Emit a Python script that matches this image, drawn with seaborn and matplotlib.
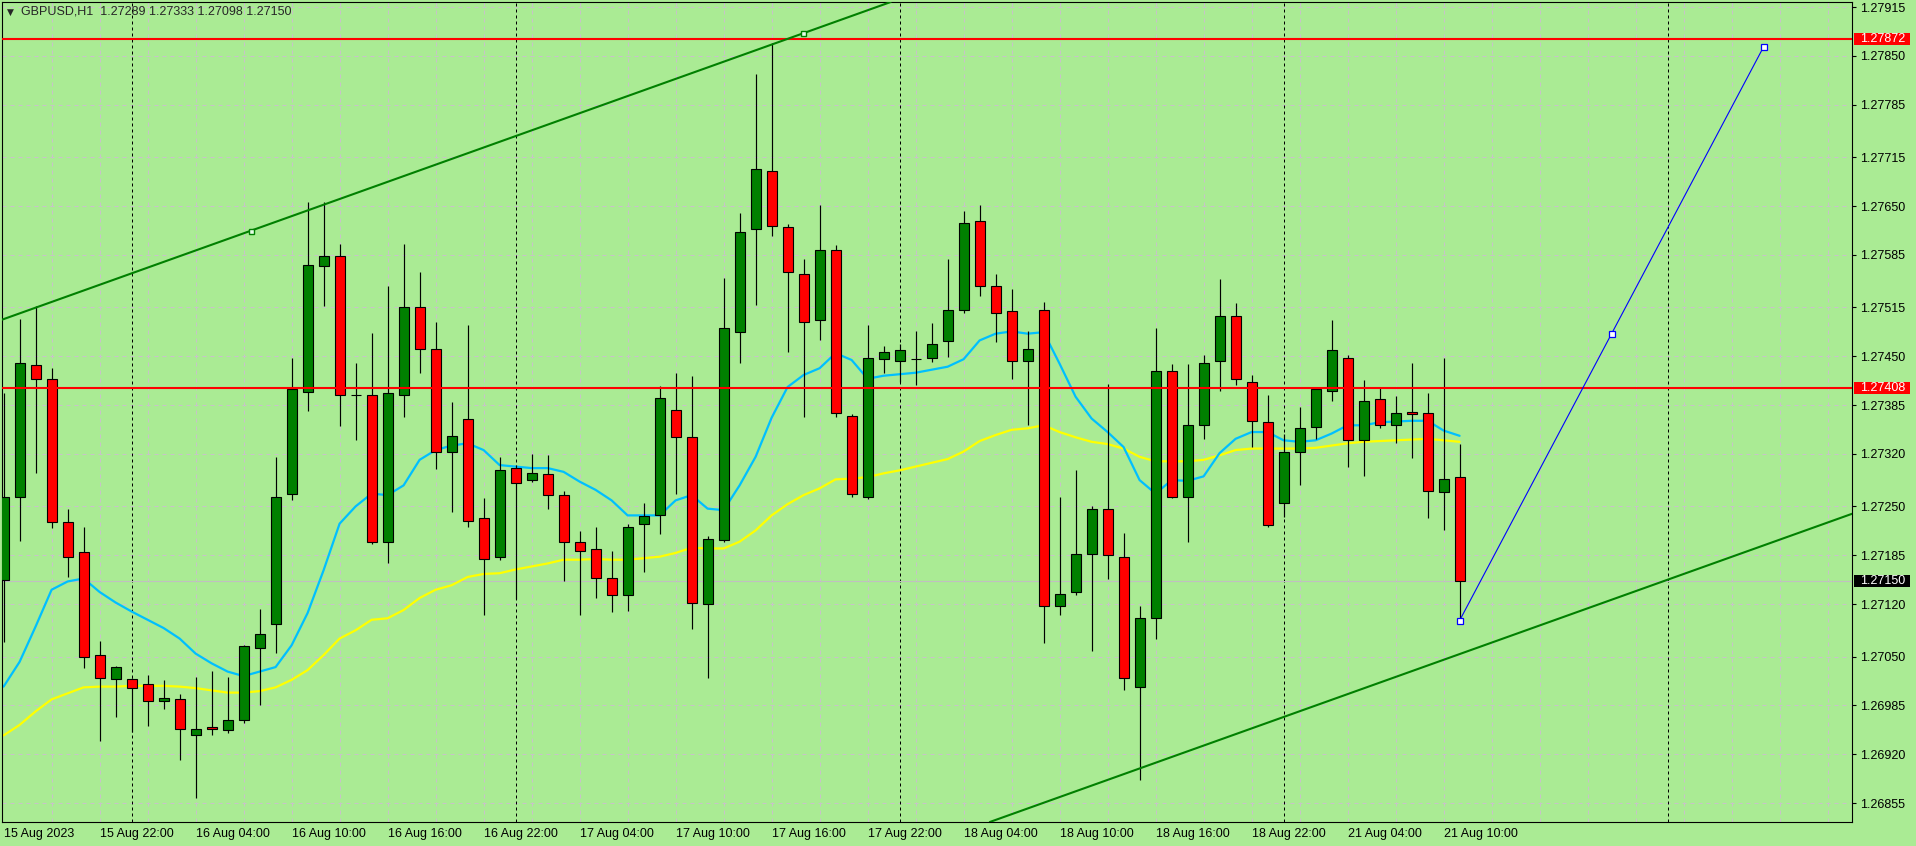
import numpy as np
import pandas as pd
import matplotlib
matplotlib.use('Agg')
import matplotlib.pyplot as plt
import matplotlib.transforms as mtransforms
from matplotlib.patches import Rectangle
import seaborn as sns


# GBPUSD H1 bars (15 Aug 16:00 .. 21 Aug 11:00)
opens = [
    1.27152, 1.27262, 1.27438, 1.27419, 1.27229, 1.27189, 1.27052, 1.27020, 1.27020, 1.27014,
    1.26991, 1.26994, 1.26946, 1.26956, 1.26952, 1.26966, 1.27062, 1.27094, 1.27267, 1.27403,
    1.27570, 1.27584, 1.27399, 1.27398, 1.27203, 1.27399, 1.27516, 1.27459, 1.27322, 1.27366,
    1.27234, 1.27183, 1.27301, 1.27285, 1.27293, 1.27265, 1.27202, 1.27193, 1.27154, 1.27132,
    1.27226, 1.27238, 1.27379, 1.27343, 1.27120, 1.27205, 1.27482, 1.27619, 1.27696, 1.27622,
    1.27559, 1.27498, 1.27591, 1.27371, 1.27262, 1.27446, 1.27444, 1.27446, 1.27447, 1.27470,
    1.27512, 1.27630, 1.27543, 1.27510, 1.27443, 1.27511, 1.27118, 1.27136, 1.27187, 1.27247,
    1.27183, 1.27010, 1.27102, 1.27430, 1.27263, 1.27359, 1.27443, 1.27503, 1.27416, 1.27362,
    1.27254, 1.27322, 1.27356, 1.27404, 1.27447, 1.27338, 1.27393, 1.27358, 1.27376, 1.27374,
    1.27269, 1.27289]
highs = [
    1.27401, 1.27499, 1.27517, 1.27434, 1.27246, 1.27222, 1.27071, 1.27037, 1.27022, 1.27026,
    1.27019, 1.27000, 1.27023, 1.27031, 1.27023, 1.27065, 1.27114, 1.27316, 1.27448, 1.27655,
    1.27656, 1.27599, 1.27441, 1.27481, 1.27543, 1.27599, 1.27562, 1.27496, 1.27389, 1.27492,
    1.27261, 1.27316, 1.27305, 1.27320, 1.27318, 1.27270, 1.27217, 1.27222, 1.27191, 1.27226,
    1.27254, 1.27410, 1.27427, 1.27423, 1.27211, 1.27554, 1.27641, 1.27826, 1.27867, 1.27626,
    1.27579, 1.27651, 1.27598, 1.27373, 1.27492, 1.27464, 1.27466, 1.27484, 1.27494, 1.27580,
    1.27644, 1.27651, 1.27559, 1.27539, 1.27483, 1.27522, 1.27262, 1.27298, 1.27250, 1.27413,
    1.27215, 1.27118, 1.27487, 1.27439, 1.27440, 1.27451, 1.27553, 1.27521, 1.27425, 1.27399,
    1.27347, 1.27383, 1.27408, 1.27498, 1.27451, 1.27418, 1.27408, 1.27397, 1.27441, 1.27401,
    1.27447, 1.27333]
lows = [
    1.27070, 1.27204, 1.27294, 1.27221, 1.27156, 1.27035, 1.26937, 1.26969, 1.26949, 1.26957,
    1.26980, 1.26912, 1.26861, 1.26946, 1.26948, 1.26961, 1.26985, 1.27055, 1.27258, 1.27377,
    1.27517, 1.27357, 1.27339, 1.27200, 1.27174, 1.27369, 1.27428, 1.27300, 1.27243, 1.27222,
    1.27106, 1.27178, 1.27127, 1.27282, 1.27247, 1.27151, 1.27106, 1.27128, 1.27110, 1.27111,
    1.27162, 1.27213, 1.27267, 1.27087, 1.27022, 1.27203, 1.27441, 1.27518, 1.27610, 1.27455,
    1.27369, 1.27471, 1.27369, 1.27262, 1.27260, 1.27427, 1.27415, 1.27411, 1.27442, 1.27449,
    1.27508, 1.27530, 1.27469, 1.27419, 1.27358, 1.27068, 1.27106, 1.27132, 1.27058, 1.27153,
    1.27006, 1.26885, 1.27073, 1.27261, 1.27202, 1.27340, 1.27404, 1.27411, 1.27329, 1.27222,
    1.27236, 1.27279, 1.27340, 1.27391, 1.27302, 1.27291, 1.27354, 1.27334, 1.27314, 1.27234,
    1.27219, 1.27098]
closes = [
    1.27263, 1.27441, 1.27419, 1.27229, 1.27183, 1.27050, 1.27022, 1.27036, 1.27008, 1.26991,
    1.26995, 1.26954, 1.26954, 1.26953, 1.26966, 1.27064, 1.27080, 1.27263, 1.27406, 1.27571,
    1.27584, 1.27399, 1.27399, 1.27203, 1.27401, 1.27515, 1.27460, 1.27323, 1.27344, 1.27231,
    1.27180, 1.27298, 1.27281, 1.27294, 1.27265, 1.27202, 1.27191, 1.27154, 1.27132, 1.27223,
    1.27237, 1.27394, 1.27343, 1.27121, 1.27206, 1.27487, 1.27616, 1.27699, 1.27624, 1.27562,
    1.27495, 1.27591, 1.27374, 1.27266, 1.27447, 1.27456, 1.27458, 1.27446, 1.27466, 1.27512,
    1.27628, 1.27544, 1.27507, 1.27443, 1.27460, 1.27118, 1.27133, 1.27186, 1.27247, 1.27185,
    1.27022, 1.27101, 1.27430, 1.27263, 1.27359, 1.27441, 1.27503, 1.27419, 1.27364, 1.27225,
    1.27322, 1.27355, 1.27406, 1.27458, 1.27338, 1.27391, 1.27358, 1.27375, 1.27373, 1.27271,
    1.27287, 1.27150]

# moving averages as drawn (blue = fast, yellow = slow)
ma_fast = [
    1.27010, 1.27043, 1.27090, 1.27139, 1.27150, 1.27154, 1.27136, 1.27122, 1.27110, 1.27099,
    1.27088, 1.27074, 1.27054, 1.27041, 1.27030, 1.27024, 1.27030, 1.27036, 1.27065, 1.27108,
    1.27165, 1.27227, 1.27250, 1.27267, 1.27265, 1.27278, 1.27312, 1.27325, 1.27331, 1.27334,
    1.27325, 1.27305, 1.27303, 1.27301, 1.27301, 1.27296, 1.27283, 1.27272, 1.27258, 1.27238,
    1.27238, 1.27238, 1.27258, 1.27265, 1.27247, 1.27245, 1.27278, 1.27316, 1.27368, 1.27409,
    1.27425, 1.27434, 1.27454, 1.27445, 1.27420, 1.27424, 1.27426, 1.27428, 1.27432, 1.27436,
    1.27446, 1.27471, 1.27480, 1.27483, 1.27480, 1.27482, 1.27440, 1.27396, 1.27367, 1.27349,
    1.27329, 1.27285, 1.27267, 1.27285, 1.27284, 1.27290, 1.27321, 1.27340, 1.27349, 1.27349,
    1.27338, 1.27336, 1.27338, 1.27347, 1.27358, 1.27358, 1.27362, 1.27363, 1.27364, 1.27364,
    1.27351, 1.27344]
ma_slow = [
    1.26945, 1.26959, 1.26977, 1.26993, 1.27001, 1.27009, 1.27010, 1.27010, 1.27011, 1.27011,
    1.27011, 1.27010, 1.27008, 1.27005, 1.27002, 1.27002, 1.27004, 1.27009, 1.27019, 1.27032,
    1.27052, 1.27074, 1.27085, 1.27099, 1.27101, 1.27112, 1.27128, 1.27139, 1.27145, 1.27156,
    1.27160, 1.27161, 1.27166, 1.27170, 1.27174, 1.27179, 1.27179, 1.27180, 1.27179, 1.27179,
    1.27181, 1.27183, 1.27188, 1.27195, 1.27194, 1.27194, 1.27203, 1.27218, 1.27238, 1.27253,
    1.27265, 1.27274, 1.27286, 1.27287, 1.27289, 1.27294, 1.27298, 1.27303, 1.27308, 1.27313,
    1.27323, 1.27337, 1.27345, 1.27352, 1.27354, 1.27358, 1.27349, 1.27342, 1.27336, 1.27333,
    1.27327, 1.27316, 1.27310, 1.27310, 1.27310, 1.27312, 1.27318, 1.27325, 1.27327, 1.27327,
    1.27327, 1.27327, 1.27328, 1.27331, 1.27334, 1.27336, 1.27337, 1.27338, 1.27339, 1.27340,
    1.27338, 1.27336]

time_labels = ['15 Aug 2023', '15 Aug 22:00', '16 Aug 04:00', '16 Aug 10:00', '16 Aug 16:00',
               '16 Aug 22:00', '17 Aug 04:00', '17 Aug 10:00', '17 Aug 16:00', '17 Aug 22:00',
               '18 Aug 04:00', '18 Aug 10:00', '18 Aug 16:00', '18 Aug 22:00', '21 Aug 04:00',
               '21 Aug 10:00']
label_bars = [0, 6, 12, 18, 24, 30, 36, 42, 48, 54, 60, 66, 72, 78, 84, 90]
day_starts = [8, 32, 56, 80, 104]
price_ticks = [1.27915, 1.27850, 1.27785, 1.27715, 1.27650, 1.27585, 1.27515, 1.27450, 1.27385,
               1.27320, 1.27250, 1.27185, 1.27120, 1.27050, 1.26985, 1.26920, 1.26855]

# drawn objects
levels = [1.27872, 1.27408]
channel_bars = [15.44, 49.97]
channel_prices = [1.27617, 1.27880]
channel_low_bar, channel_low_price = 71, 1.26901
path_bars = [91, 100.5, 110]
path_prices = [1.27098, 1.27480, 1.27862]

bg = '#aaeb94'
grid_c = '#c8c2c8'

sns.set_style('white')
plt.rcParams['font.family'] = ['Liberation Sans', 'DejaVu Sans']
plt.rcParams['font.size'] = 9

df = pd.DataFrame({'bar': np.arange(len(opens)), 'open': opens, 'high': highs,
                   'low': lows, 'close': closes, 'fast': ma_fast, 'slow': ma_slow})
df['up'] = df['close'] >= df['open']

W, H = 1916, 846
fig = plt.figure(figsize=(W / 100, H / 100), dpi=100, facecolor=bg)
ax = fig.add_axes([2 / W, 24 / H, 1850 / W, 820 / H])
ax.set_facecolor(bg)

xlim = (-0.1, 115.525)
ylim = (1.268297, 1.279217)

# grid + day separators
for k in range(3, 116, 3):
    ax.axvline(k, color=grid_c, lw=0.72, ls=(0, (4, 4)), zorder=0.5)
for p in price_ticks:
    ax.axhline(p, color=grid_c, lw=0.72, ls=(0, (4, 4)), zorder=0.5)
for k in day_starts:
    ax.axvline(k, color='black', lw=0.72, ls=(0, (3, 3)), zorder=0.6)

# bid line
ax.axhline(closes[-1], color='#c0c0c0', lw=0.8, zorder=0.7)

# moving averages
sns.lineplot(x=df['bar'], y=df['slow'], color='#ffff00', lw=1.6, ax=ax,
             estimator=None, sort=False, zorder=2)
sns.lineplot(x=df['bar'], y=df['fast'], color='#00bfff', lw=1.6, ax=ax,
             estimator=None, sort=False, zorder=2)

# candles
ax.vlines(df['bar'], df['low'], df['high'], color='black', lw=0.85, zorder=3)
ax.bar(df['bar'], (df['close'] - df['open']).abs(),
       bottom=df[['open', 'close']].min(axis=1), width=0.62,
       color=np.where(df['up'], '#008000', '#ff0000'),
       edgecolor='black', linewidth=0.8, zorder=4)

# horizontal levels
for lv in levels:
    ax.axhline(lv, color='#ff0000', lw=1.5, zorder=5)

# channel
slope = (channel_prices[1] - channel_prices[0]) / (channel_bars[1] - channel_bars[0])
ax.axline((channel_bars[0], channel_prices[0]), slope=slope, color='#008000', lw=1.5, zorder=5)
ax.axline((channel_low_bar, channel_low_price), slope=slope, color='#008000', lw=1.5, zorder=5)
ax.plot(channel_bars, channel_prices, ls='none', marker='s', ms=3.6,
        mfc='#e8ffe8', mec='#008000', mew=1.0, zorder=6)

# projection path
sns.lineplot(x=path_bars, y=path_prices, color='#0000ff', lw=0.8, ax=ax,
             estimator=None, sort=False, zorder=6)
ax.plot(path_bars, path_prices, ls='none', marker='s', ms=4, mfc='white',
        mec='#0000ff', mew=0.9, zorder=7)

ax.set_xlim(*xlim)
ax.set_ylim(*ylim)
ax.set_xlabel('')
ax.set_ylabel('')

# axes
ax.yaxis.tick_right()
ax.set_yticks(price_ticks)
ax.set_yticklabels([f'{p:.5f}' for p in price_ticks])
ax.set_xticks(label_bars)
ax.set_xticklabels(time_labels, ha='left')
ax.tick_params(axis='y', length=3, width=0.8, pad=3, labelsize=9, colors='black')
ax.tick_params(axis='x', length=3, width=0.8, pad=1, labelsize=9, colors='black')
for s in ax.spines.values():
    s.set_color('black')
    s.set_linewidth(0.8)
    s.set_visible(True)

# price boxes on the axis
tr = mtransforms.blended_transform_factory(ax.transAxes, ax.transData)
box_h = 0.00016


def price_box(price, face, txt):
    ax.add_patch(Rectangle((1.0011, price - box_h / 2), 0.0303, box_h, transform=tr,
                           facecolor=face, edgecolor='none', clip_on=False, zorder=8))
    ax.text(1.0043, price, f'{price:.5f}', transform=tr, color=txt, fontsize=9,
            va='center', ha='left', clip_on=False, zorder=9)


for lv in levels:
    price_box(lv, '#ff0000', 'white')
price_box(closes[-1], 'black', 'white')

# header
fig.text(7 / W, 1 - 12 / H, '\u25bc', fontsize=6.5, va='center', ha='left',
         family=['DejaVu Sans'])
fig.text(21 / W, 1 - 12 / H,
         f'GBPUSD,H1  {opens[-1]:.5f} {highs[-1]:.5f} {lows[-1]:.5f} {closes[-1]:.5f}',
         fontsize=9, va='center', ha='left')

fig.savefig('out.png', dpi=100, facecolor=bg)
plt.close()
